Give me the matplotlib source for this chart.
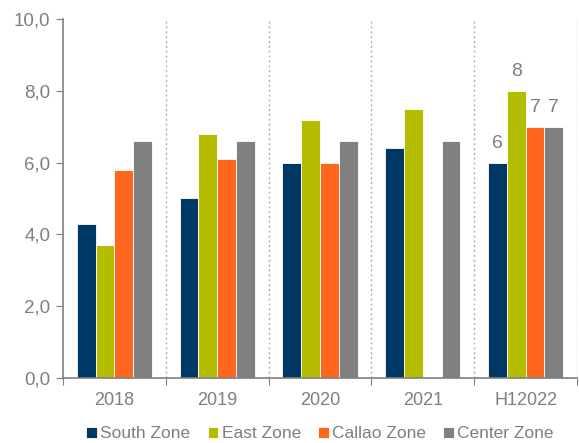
import numpy as np
import matplotlib.pyplot as plt

plt.rcParams['font.family'] = ['Liberation Sans', 'DejaVu Sans']

years = ["2018", "2019", "2020", "2021", "H12022"]
south = [4.3, 5.0, 6.0, 6.4, 6.0]
east = [3.7, 6.8, 7.2, 7.5, 8.0]
callao = [5.8, 6.1, 6.0, np.nan, 7.0]
center = [6.6, 6.6, 6.6, 6.6, 7.0]

series = [("South Zone", south, "#003865"),
          ("East Zone", east, "#B5BD00"),
          ("Callao Zone", callao, "#FF671F"),
          ("Center Zone", center, "#808080")]

grey = "#7F7F7F"
fig = plt.figure(figsize=(5.79, 4.43), dpi=100)
ax = fig.add_axes([0.109, 0.147, 0.8875, 0.81])

x = np.arange(len(years))
w = 0.183
for i, (name, vals, col) in enumerate(series):
    pos = x + (i - 1.5) * w
    ax.bar(pos, vals, width=w, color=col, edgecolor="white", linewidth=0.6, label=name)
    # labels only on the last period
    v = vals[-1]
    ax.text(pos[-1], v + 0.3, f"{v:.0f}", ha="center", va="bottom", fontsize=14, color=grey)

ax.set_xlim(-0.5, len(years) - 0.5)
ax.set_ylim(0, 10)
ax.set_yticks(np.arange(0, 10.1, 2))
ax.set_yticklabels([f"{t:.1f}".replace(".", ",") for t in np.arange(0, 10.1, 2)])

bounds = np.arange(-0.5, len(years), 1)
ax.set_xticks(bounds)
ax.set_xticklabels([])
ax.set_xticks(x, minor=True)
ax.set_xticklabels(years, minor=True)
ax.tick_params(axis="x", which="minor", length=0, pad=10, labelsize=13, labelcolor=grey)
ax.tick_params(axis="x", which="major", length=5, color=grey, direction="out")
ax.tick_params(axis="y", length=5, color=grey, labelsize=13.5, labelcolor=grey, pad=4)

for b in bounds[1:]:
    ax.axvline(b, color="#B0B0B0", linestyle=(0, (1.5, 2)), linewidth=1, zorder=0)

for s in ["top", "right"]:
    ax.spines[s].set_visible(False)
for s in ["left", "bottom"]:
    ax.spines[s].set_color(grey)
    ax.spines[s].set_linewidth(1.2)

ax.legend(loc="upper center", bbox_to_anchor=(0.5, -0.125), ncol=4, frameon=False,
          fontsize=12.5, labelcolor=grey, handlelength=0.6, handleheight=0.6,
          handletextpad=0.2, columnspacing=1.0, borderaxespad=0, borderpad=0.2)

fig.savefig("out.png", dpi=100)
